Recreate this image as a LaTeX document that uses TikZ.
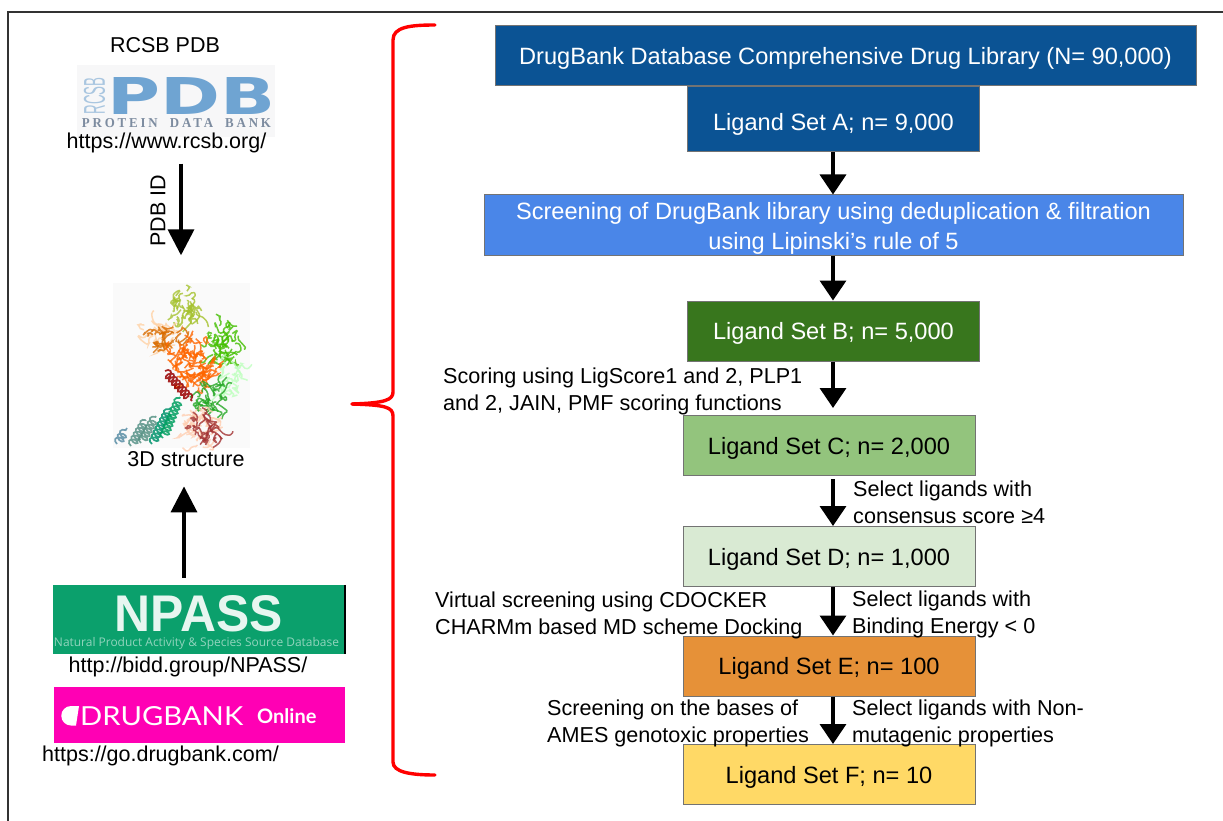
\documentclass[tikz,border=0pt]{standalone}
\usepackage{graphicx}
\usepackage{fontspec}
\setmainfont{Liberation Sans}
\newfontfamily\pdbserif[LetterSpace=22]{Liberation Serif}
\newfontfamily\heavyfont{DejaVu Sans}
\newfontfamily\openfont{Open Sans}
\newfontfamily\latofont{Lato}
\usetikzlibrary{arrows.meta,calc,decorations.pathmorphing}
\definecolor{deepblue}{HTML}{0B5394}
\definecolor{midblue}{HTML}{4A86E8}
\definecolor{deepgreen}{HTML}{38761D}
\definecolor{softgreen}{HTML}{93C47D}
\definecolor{palegreen}{HTML}{D9EAD3}
\definecolor{burntorange}{HTML}{E69138}
\definecolor{softyellow}{HTML}{FFD966}
\definecolor{npassgreen}{HTML}{0BA06C}
\definecolor{dbpink}{HTML}{FF00B4}
\definecolor{pdbblue}{HTML}{6FA4D2}
\definecolor{pdbpale}{HTML}{A9C6E0}
\definecolor{pdbgrey}{HTML}{7D8CA0}
\newcommand{\squig}[6]{%
  \foreach \i in {1,...,#6}{%
    \pgfmathsetmacro\aa{rnd*360}\pgfmathsetmacro\rr{sqrt(rnd)}%
    \draw[#5,line width=1.5pt,rounded corners=1.6pt,opacity=.8]
      ({#1+#3*\rr*cos(\aa)},{#2+#4*\rr*sin(\aa)})
      -- ++({6*rand},{6*rand}) -- ++({6*rand},{6*rand})
      -- ++({6*rand},{6*rand}) -- ++({6*rand},{6*rand});
  }}
\tikzset{
  flowbox/.style={draw=black!55,line width=1pt,inner sep=0pt,minimum height=60pt,
    font=\fontsize{23.6}{30}\selectfont,align=center},
  lowered/.style={text height=17pt,text depth=0pt},
  whitebox/.style={flowbox,text=white},
  setwidth/.style={minimum width=292pt},
  note/.style={inner sep=0pt,anchor=base west,align=left,font=\fontsize{21.6}{26.5}\selectfont},
  plain/.style={inner sep=0pt,anchor=base,font=\fontsize{21.5}{26}\selectfont},
  flowarrow/.style={line width=3.6pt,-{Triangle[length=20pt,width=26pt]}},
  sidearrow/.style={line width=3.6pt,-{Triangle[length=26pt,width=26pt]}},
  helix/.style={decorate,decoration={coil,aspect=.6,segment length=4.5pt,amplitude=4.2pt},line width=1.7pt,opacity=.85},
}
\begin{document}
\begin{tikzpicture}[x=1pt,y=-1pt]
\useasboundingbox (0,0) rectangle (1223,821);
\fill[white] (0,0) rectangle (1223,821);
% frame (only top and left edges are in view)
\draw[black!80,line width=1.3pt] (8,821) -- (8,12) -- (1223,12);

% red brace
\draw[red,line width=3.4pt,line cap=round,line join=round]
  (435,25) .. controls (410,25) and (393,27) .. (393,40) -- (393,392)
  .. controls (393,400) and (385,403) .. (352,404);
\draw[red,line width=3.4pt,line cap=round,line join=round]
  (352,404) .. controls (385,405) and (393,407) .. (393,416) -- (393,762)
  .. controls (393,772) and (410,775) .. (435,775);

% flow boxes
\node[whitebox,lowered,fill=deepblue,minimum width=701pt] (lib) at (845.5,56) {DrugBank Database Comprehensive Drug Library (N= 90,000)};
\node[whitebox,lowered,fill=deepblue,setwidth,minimum height=65pt,text height=23pt] (seta) at (833.5,119.5) {Ligand Set A; n= 9,000};
\node[whitebox,fill=midblue,minimum width=699pt] (screen) at (833.5,225) {\rule{0pt}{23pt}Screening of DrugBank library using deduplication \& filtration\\using Lipinski's rule of 5};
\node[whitebox,lowered,setwidth,fill=deepgreen] (setb) at (833.5,331) {Ligand Set B; n= 5,000};
\node[flowbox,lowered,setwidth,fill=softgreen] (setc) at (829,445.5) {Ligand Set C; n= 2,000};
\node[flowbox,lowered,setwidth,fill=palegreen] (setd) at (829,556.5) {Ligand Set D; n= 1,000};
\node[flowbox,lowered,setwidth,fill=burntorange] (sete) at (829,666) {Ligand Set E; n= 100};
\node[flowbox,lowered,setwidth,fill=softyellow] (setf) at (829,774.5) {Ligand Set F; n= 10};

% flow arrows
\draw[flowarrow] (seta.south -| 833,0) -- (screen.north -| 833,0);
\draw[flowarrow] (screen.south -| 833,0) -- (setb.north -| 833,0);
\draw[flowarrow,shorten >=7pt] (setb.south -| 833,0) -- (setc.north -| 833,0);
\draw[flowarrow,shorten <=3pt] (setc.south -| 833,0) -- (setd.north -| 833,0);
\draw[flowarrow] (setd.south -| 833,0) -- (sete.north -| 833,0);
\draw[flowarrow] (sete.south -| 833,0) -- (setf.north -| 833,0);

% side notes
\node[note] (n1) at (443,410) {Scoring using LigScore1 and 2, PLP1\\and 2, JAIN, PMF scoring functions};
\node[note] (n2) at (853,523) {Select ligands with\\consensus score ≥4};
\node[note] (n3) at (435,634) {Virtual screening using CDOCKER\\CHARMm based MD scheme Docking};
\node[note] (n4) at (852,633) {Select ligands with\\Binding Energy < 0};
\node[note] (n5) at (547,742) {Screening on the bases of\\AMES genotoxic properties};
\node[note] (n6) at (852,742) {Select ligands with Non-\\mutagenic properties};

% PDB logo
\node[fill=blue!3!black!3,minimum width=198pt,minimum height=72pt,inner sep=0pt] (pdblogo) at (176,101) {};
\node[inner sep=0pt,text=pdbblue] (pdbword) at (191.5,95.5) {\resizebox{168pt}{37pt}{\heavyfont\bfseries PDB}};
\node[inner sep=0pt,text=pdbpale,rotate=90] (rcsbword) at (94.5,96) {\resizebox{37pt}{21pt}{\fontsize{16}{16}\selectfont RCSB}};
\node[inner sep=0pt,text=pdbgrey] (pdbsub) at (176.5,123.5) {\resizebox{189pt}{9pt}{\pdbserif\bfseries\fontsize{12}{12}\selectfont PROTEIN\ \ DATA\ \ BANK}};
\node[plain] (rcsbtitle) at (165,53) {RCSB PDB};
\node[plain] (rcsburl) at (166.5,149) {https://www.rcsb.org/};

% protein ribbon drawing
\node[fill=black!2,minimum width=137pt,minimum height=165pt,inner sep=0pt] (prot) at (181.5,365) {};
\pgfmathsetseed{7}
\squig{184}{305}{16}{17}{yellow!70!green!85!black}{28}
\squig{162}{335}{20}{17}{orange!35}{22}
\squig{165}{338}{14}{13}{orange!85!black}{22}
\squig{225}{345}{16}{22}{green!65!yellow!75!black}{38}
\squig{231}{378}{10}{14}{green!25!white}{20}
\squig{195}{365}{24}{24}{orange!80!red}{65}
\squig{208}{398}{15}{13}{green!60!black!85}{26}
\squig{204}{428}{25}{18}{red!25!orange!30}{32}
\squig{204}{430}{20}{13}{red!55!black!80}{24}
\draw[helix,red!60!black] (165,371) -- (192,401);
\draw[helix,cyan!55!black!85] (117,444) -- (127,428);
\draw[helix,cyan!50!green!60!black!85] (131,446) -- (146,420);
\draw[helix,cyan!45!green!60!black!85] (141,443) -- (156,416);
\draw[helix,teal!85!green] (152,444) -- (170,408);
\draw[helix,teal!75!green] (163,438) -- (180,397);
\node[plain] (struct) at (186,466) {3D structure};

% databases
\node[fill=npassgreen,minimum width=292pt,minimum height=69pt,inner sep=0pt] (npass) at (199,619.5) {};
\draw[black,line width=1.6pt] (npass.north east) -- (npass.south east);
\node[inner sep=0pt,text=white!90!npassgreen] (npassword) at (199,614) {\resizebox{168pt}{36pt}{\bfseries NPASS}};
\node[inner sep=0pt,text=white!55!npassgreen] (npasssub) at (196.5,643) {\resizebox{285pt}{!}{\openfont\fontsize{12}{12}\selectfont Natural Product Activity \& Species Source Database}};
\node[plain] (npassurl) at (188,672) {http://bidd.group/NPASS/};
\node[fill=dbpink,minimum width=291pt,minimum height=56pt,inner sep=0pt] (dbank) at (199.5,715) {};
\fill[white] (71,706) -- (79,706) -- (76,725.5) -- (71,725.5) arc[start angle=270,end angle=90,radius=9.75pt] -- cycle;
\node[inner sep=0pt,anchor=west,text=white] (dbword) at (80,716) {\resizebox{163pt}{19pt}{\latofont DRUGBANK}};
\node[inner sep=0pt,anchor=west,text=white] (dbonline) at (257,716.5) {\latofont\bfseries\fontsize{20}{20}\selectfont Online};
\node[plain] (dburl) at (160.5,761) {https://go.drugbank.com/};

% side arrows
\draw[sidearrow,shorten >=27pt] (rcsburl.south -| 181,0) ++(0,10) -- (prot.north -| 181,0);
\node[inner sep=0pt,rotate=90,font=\fontsize{21.5}{26}\selectfont] (pdbid) at (158,211) {PDB ID};
\draw[sidearrow,shorten <=7pt] (npass.north -| 184,0) -- ($(struct.south -| 184,0)+(0,20)$);
\end{tikzpicture}
\end{document}
